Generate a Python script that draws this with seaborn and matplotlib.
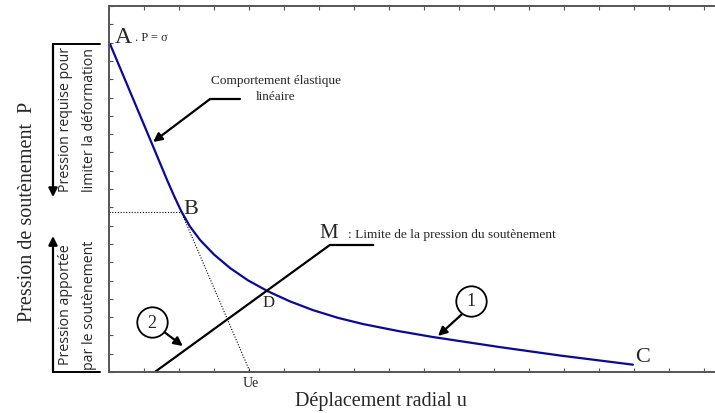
import numpy as np
import pandas as pd
import matplotlib
matplotlib.use("Agg")
import matplotlib.pyplot as plt
from matplotlib.ticker import MultipleLocator
import seaborn as sns

# Courbe caractéristique du massif (A -> B -> C), unités arbitraires
u_massif = [0.03, 0.63, 1.23, 1.66, 1.86, 2.06, 2.31, 2.60, 3.00, 3.46, 3.97,
            4.54, 5.17, 5.83, 6.54, 7.26, 8.26, 9.26, 11.17, 12.89, 14.97]
p_massif = [17.92, 15.19, 12.46, 10.49, 9.62, 8.80, 7.96, 7.22, 6.42, 5.68, 5.01,
            4.41, 3.86, 3.38, 2.96, 2.62, 2.24, 1.91, 1.36, 0.90, 0.40]

# Courbe du soutènement (droite jusqu'à M puis palier)
u_sout = [1.31, 6.31, 7.55]
p_sout = [0.0, 6.94, 6.94]

# Comportement élastique prolongé : B -> Ue
u_B, p_B = 2.06, 8.77
u_Ue = 4.03

massif = pd.DataFrame({'u': u_massif, 'P': p_massif})
sout = pd.DataFrame({'u': u_sout, 'P': p_sout})

sns.set_style("ticks")
plt.rcParams['font.family'] = ['Liberation Serif', 'DejaVu Serif']

fig = plt.figure(figsize=(7.15, 4.14), dpi=100)
ax = fig.add_axes([109 / 715, 41 / 414, 606 / 715, 366 / 414])

sns.lineplot(data=massif, x='u', y='P', sort=False, estimator=None,
             color='#0a0a9a', lw=1.6, ax=ax)
sns.lineplot(data=sout, x='u', y='P', sort=False, estimator=None,
             color='black', lw=1.6, ax=ax)

# lignes pointillées (B et Ue)
ax.plot([0, u_B], [p_B, p_B], color='black', lw=0.8, ls=(0, (1, 1.5)))
ax.plot([u_B, u_Ue], [p_B, 0], color='black', lw=0.8, ls=(0, (1, 1.5)))

ax.set_xlim(0, 606 / 35)
ax.set_ylim(0, 20)
ax.xaxis.set_major_locator(MultipleLocator(1))
ax.yaxis.set_major_locator(MultipleLocator(1))
ax.tick_params(axis='x', direction='in', top=True, bottom=True, length=3,
               width=0.8, color='#555555', labelbottom=False)
ax.tick_params(axis='y', direction='in', left=True, right=False, length=3,
               width=0.8, color='#555555', labelleft=False)
ax.spines['right'].set_visible(False)
for s in ['left', 'top', 'bottom']:
    ax.spines[s].set_color('#555555')
    ax.spines[s].set_linewidth(1.4)

ax.set_xlabel('Déplacement radial u', fontsize=14.5, va='center')
ax.xaxis.set_label_coords(0.449, -0.079)
ax.set_ylabel('Pression de soutènement  P', fontsize=14.5, va='center')
ax.yaxis.set_label_coords(-0.134, 0.44)

# points et repères
ax.text(0.40, 18.31, 'A', fontsize=17, ha='center', va='center')
ax.text(0.74, 18.33, '. P = σ', fontsize=9, ha='left', va='center')
ax.text(2.33, 8.93, 'B', fontsize=16, ha='center', va='center')
ax.text(15.24, 0.82, 'C', fontsize=16, ha='center', va='center')
ax.text(4.56, 3.85, 'D', fontsize=12, ha='center', va='center')
ax.text(6.29, 7.60, 'M', fontsize=15, ha='center', va='center')
ax.text(6.83, 7.54, ': Limite de la pression du soutènement', fontsize=9.6,
        ha='left', va='center')
ax.text(4.06, -0.55, 'Ue', fontsize=10, ha='center', va='center', clip_on=False)

arrow = dict(arrowstyle='-|>', color='black', lw=1.6, mutation_scale=13,
             shrinkA=0, shrinkB=0)

# Comportement élastique linéaire
ax.text(4.77, 15.52, 'Comportement élastique\nlinéaire', fontsize=9.5,
        ha='center', va='center', linespacing=1.35)
ax.plot([2.89, 3.74], [14.92, 14.92], color='black', lw=1.6)
ax.annotate('', xy=(1.26, 12.57), xytext=(2.89, 14.92), arrowprops=arrow)

# repères 1 et 2
ax.scatter([10.34, 1.23], [3.88, 2.73], s=480, facecolor='white',
           edgecolor='black', lw=1.3, zorder=5)
ax.text(10.34, 3.88, '1', fontsize=13, ha='center', va='center', zorder=6)
ax.text(1.23, 2.73, '2', fontsize=13, ha='center', va='center', zorder=6)
ax.annotate('', xy=(9.40, 1.97), xytext=(10.09, 3.17), arrowprops=arrow)
ax.annotate('', xy=(2.11, 1.42), xytext=(1.54, 2.24), arrowprops=arrow)

# flèches et textes à gauche de l'axe
ax.plot([-1.6, -0.257], [17.92, 17.92], color='black', lw=1.4, clip_on=False)
ax.plot([-1.6, -0.257], [0, 0], color='black', lw=1.4, clip_on=False)
ax.annotate('', xy=(-1.6, 9.56), xytext=(-1.6, 17.92), arrowprops=arrow,
            annotation_clip=False)
ax.annotate('', xy=(-1.6, 7.43), xytext=(-1.6, 0), arrowprops=arrow,
            annotation_clip=False)
sans = ['Open Sans', 'DejaVu Sans']
ax.text(-1.23, 13.83, 'Pression requise pour', family=sans, fontsize=10.2,
        rotation=90, ha='center', va='center', clip_on=False)
ax.text(-0.57, 13.83, 'limiter la déformation', family=sans, fontsize=10.2,
        rotation=90, ha='center', va='center', clip_on=False)
ax.text(-1.23, 3.72, 'Pression apportée', family=sans, fontsize=10.2,
        rotation=90, ha='center', va='center', clip_on=False)
ax.text(-0.57, 3.72, 'par le soutènement', family=sans, fontsize=10.2,
        rotation=90, ha='center', va='center', clip_on=False)

fig.savefig('out.png', dpi=100)
